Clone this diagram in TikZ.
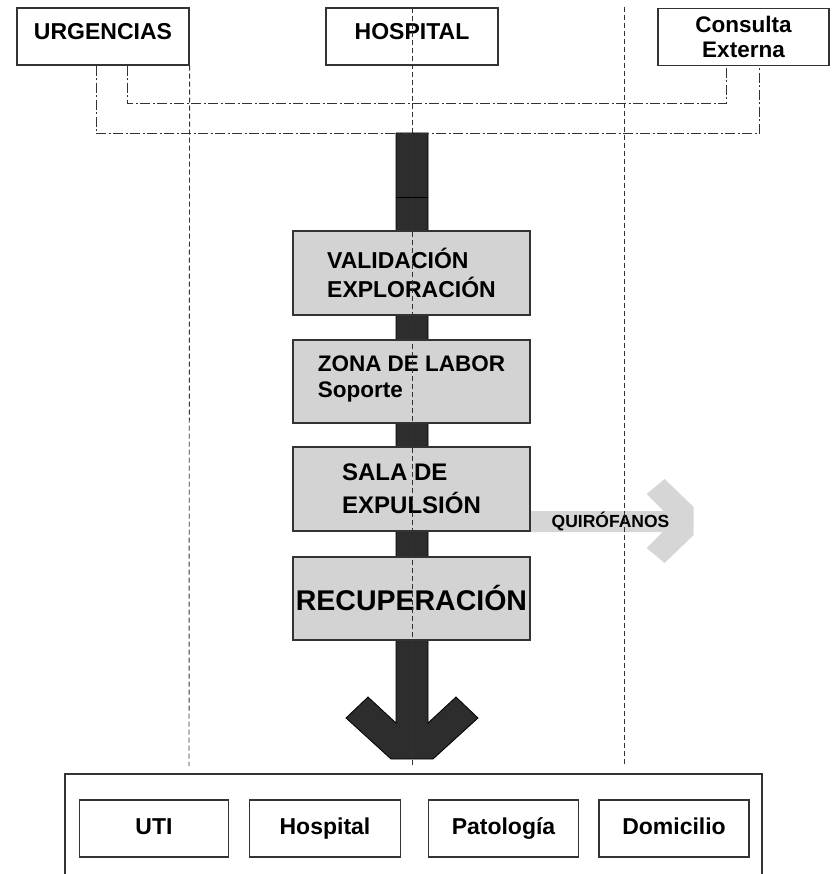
\documentclass[tikz,border=0pt]{standalone}
\usepackage{fontspec}
\setmainfont{Liberation Sans}
\usetikzlibrary{calc}
\definecolor{boxgray}{HTML}{D3D3D3}
\definecolor{flowdark}{HTML}{2D2D2D}
\definecolor{sidegray}{HTML}{D6D6D6}
\definecolor{edge}{HTML}{333333}

\begin{document}
\begin{tikzpicture}[x=1pt,y=-1pt,
  source/.style={draw=edge, line width=1.2pt, fill=white, minimum width=172pt,
    minimum height=57pt, inner sep=0pt, align=center,
    font=\fontsize{23}{25}\selectfont\bfseries},
  stage/.style={draw=edge, line width=1.2pt, fill=boxgray, minimum width=237pt,
    minimum height=84pt, inner sep=0pt, align=left},
  dest/.style={draw=edge, line width=1.2pt, fill=white, minimum width=150pt,
    minimum height=57pt, inner sep=0pt, text height=17pt, text depth=5pt,
    font=\fontsize{23}{25}\selectfont\bfseries},
  lane/.style={draw=edge, line width=0.9pt, dash pattern=on 5pt off 3pt},
  feed/.style={draw=edge, line width=1pt, dash pattern=on 10pt off 2.5pt on 2pt off 2.5pt},
  flow/.style={fill=flowdark, draw=black, line width=0.8pt},
  side/.style={fill=sidegray, draw=none}]

\useasboundingbox (0,0) rectangle (831,874);

% main flow arrow (drawn first so the stage boxes sit on top)
\coordinate (flowtop) at (412,133);
\coordinate (flowtip) at (412,759);
\draw[flow] ($(flowtop)+(-16,0)$) -- ($(flowtop)+(16,0)$)
  -- ($(flowtip)+(16,-36)$) -- ($(flowtip)+(44,-62)$) -- ($(flowtip)+(66,-41)$)
  -- ($(flowtip)+(21,0)$) -- ($(flowtip)+(-21,0)$) -- ($(flowtip)+(-66,-41)$)
  -- ($(flowtip)+(-44,-62)$) -- ($(flowtip)+(-16,-36)$) -- cycle;
\draw[black, line width=0.8pt] ($(flowtop)+(-16,64)$) -- ($(flowtop)+(16,64)$);

% entry points
\node[source, text height=17pt, text depth=10pt] (urg)  at (103,36.5) {URGENCIAS};
\node[source, text height=17pt, text depth=10pt] (hosp) at (412,36.5) {HOSPITAL};
\node[source, minimum width=171pt, font=\fontsize{22.5}{25}\selectfont\bfseries] (cons) at (743.5,37) {Consulta\\Externa};

% stages
\node[stage, font=\fontsize{23}{29}\selectfont\bfseries] (val) at (411.5,273) {VALIDACIÓN\\EXPLORACIÓN};
\node[stage, minimum height=83pt, font=\fontsize{22.5}{26}\selectfont\bfseries, text depth=10pt] (zona) at (411.5,381.5)
  {ZONA DE LABOR\\Soporte};
\node[stage, font=\fontsize{24}{33}\selectfont\bfseries] (sala) at (411.5,489) {SALA DE\\EXPULSIÓN};
\node[stage, minimum height=83pt, font=\fontsize{28.5}{30}\selectfont\bfseries] (recu) at (411.5,598.5) {RECUPERACIÓN};

% side exit towards the operating rooms
\begin{scope}[shift={(sala.east)}]
  \fill[side] (0.6,22) -- (133,22) -- (116,5) -- (134,-10) -- (163,18) -- (163,46)
    -- (134,74) -- (116,59) -- (132,43) -- (0.6,43) -- cycle;
\end{scope}
\node[font=\fontsize{17.5}{20}\selectfont\bfseries] (quiro) at (610.5,521.5) {QUIRÓFANOS};

% feeders from the entry points into the flow
\draw[feed] ([xshift=80pt]urg.south west) -- ++(0,68) -| ([xshift=102pt]cons.south west);
\draw[feed] ([xshift=111pt]urg.south west) -- ++(0,38) -| ([xshift=69pt]cons.south west);

% destinations
\draw[edge, line width=1.3pt] (65,874) -- (65,774) -- (762,774) -- (762,874);
\node[dest, minimum width=149pt] (uti) at (154,828.5)  {UTI};
\node[dest, minimum width=151pt] (hosp2) at (325,828.5) {Hospital};
\node[dest] (pat) at (503.5,828.5) {Patología};
\node[dest] (dom) at (674,828.5)   {Domicilio};

% swim-lane separators
\draw[lane] (urg.south east) -- (189,766);
\draw[lane] (412,8) -- (412,766);
\draw[lane] (624,7) -- (624,766);
\end{tikzpicture}
\end{document}
